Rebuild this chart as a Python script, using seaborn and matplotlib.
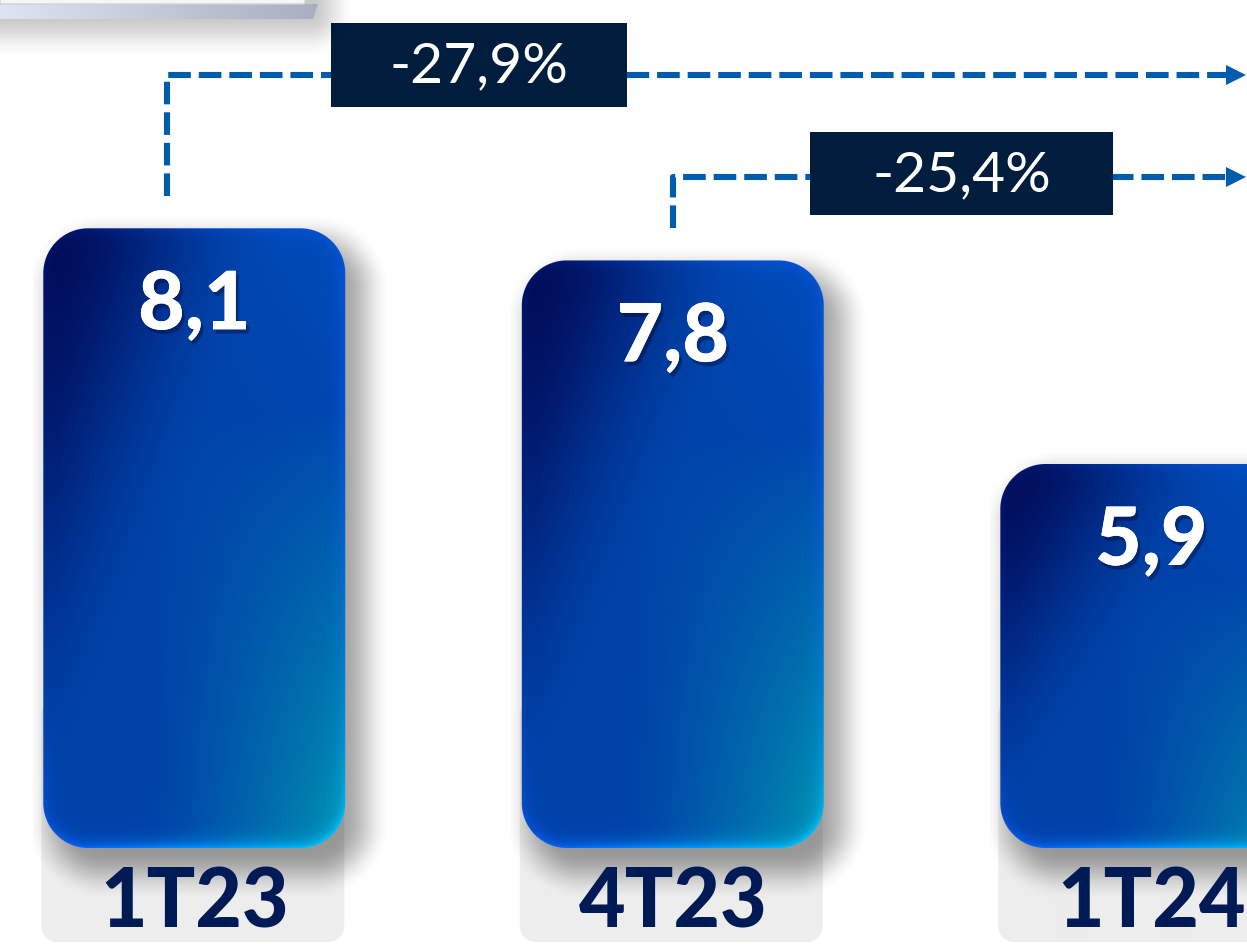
import numpy as np
import matplotlib
matplotlib.use('Agg')
import matplotlib.pyplot as plt
import seaborn as sns
from matplotlib.patches import Polygon
from matplotlib import patheffects as pe

# data
periods = ['1T23', '4T23', '1T24']
values = [8.1, 7.8, 5.9]
value_labels = ['8,1', '7,8', '5,9']
changes = ['-27,9%', '-25,4%']

W, H = 1247, 945
X0, X1 = -0.406, 2.200
Y0, Y1 = 1.42, 10.24

sns.set_style('white')
plt.rcParams['font.family'] = ['Lato', 'DejaVu Sans']

fig = plt.figure(figsize=(W / 100, H / 100), dpi=100)
ax = fig.add_axes([0, 0, 1, 1])
sns.barplot(x=periods, y=values, ax=ax, width=0.631, color='#0042a8')
ax.set_xlim(X0, X1)
ax.set_ylim(Y0, Y1)
ax.axis('off')


# pixel <-> data helpers (pixel y measured from the top)
def to_px(x):
    return (x - X0) / (X1 - X0) * W


def to_py(y):
    return (Y1 - y) / (Y1 - Y0) * H


def px_x(p):
    return X0 + p / W * (X1 - X0)


def px_y(p):
    return Y1 - p / H * (Y1 - Y0)


def hexrgb(h):
    h = h.lstrip('#')
    return np.array([int(h[i:i + 2], 16) for i in (0, 2, 4)]) / 255


def smooth(a, b, x):
    t = np.clip((x - a) / (b - a), 0, 1)
    return t * t * (3 - 2 * t)


def rrect_sdf(X, Y, x0, y0, x1, y1, r):
    cx, cy = (x0 + x1) / 2, (y0 + y1) / 2
    qx = np.abs(X - cx) - ((x1 - x0) / 2 - r)
    qy = np.abs(Y - cy) - ((y1 - y0) / 2 - r)
    out = np.hypot(np.maximum(qx, 0), np.maximum(qy, 0))
    inside = np.minimum(np.maximum(qx, qy), 0)
    return out + inside - r


def grid(x0, y0, x1, y1):
    xs = np.arange(int(x0), int(np.ceil(x1))) + 0.5
    ys = np.arange(int(y0), int(np.ceil(y1))) + 0.5
    X, Y = np.meshgrid(xs, ys)
    return X, Y, int(x0), int(y0), int(x0) + len(xs), int(y0) + len(ys)


def show_px(img, x0, y0, x1, y1, z, **kw):
    return ax.imshow(img, extent=(px_x(x0), px_x(x1), px_y(y1), px_y(y0)),
                     origin='upper', aspect='auto', zorder=z,
                     interpolation='bilinear', **kw)


navy = hexrgb('#000a56')
royal = hexrgb('#0042a8')
teal = hexrgb('#0094b0')
bright = hexrgb('#0058d0')
edge_blue = hexrgb('#0a5cff')
edge_cyan = hexrgb('#00d0ff')

base_py = 849
for i, patch in enumerate(list(ax.patches)):
    patch.set_visible(False)
    bx0 = to_px(patch.get_x())
    bx1 = to_px(patch.get_x() + patch.get_width())
    by0 = to_py(patch.get_height())
    by1 = base_py
    r = 45

    # grey label box
    X, Y, gx0, gy0, gx1, gy1 = grid(bx0 - 3, 700, bx1, H)
    d = rrect_sdf(X, Y, bx0 - 2, 700, bx1 - 1, 943, 16)
    img = np.zeros(X.shape + (4,))
    img[..., :3] = hexrgb('#ededed')
    img[..., 3] = np.clip(0.5 - d, 0, 1)
    show_px(img, gx0, gy0, gx1, gy1, 1)

    # soft drop shadow
    X, Y, sx0, sy0, sx1, sy1 = grid(bx0 - 10, by0 - 10, bx1 + 80, by1 + 80)
    d = rrect_sdf(X, Y, bx0 + 14, by0 + 16, bx1 + 14, by1 + 20, r)
    img = np.zeros(X.shape + (4,))
    img[..., 3] = 0.36 * (1 - smooth(-18, 32, d))
    show_px(img, sx0, sy0, sx1, sy1, 2)

    # gradient bar
    X, Y, ix0, iy0, ix1, iy1 = grid(bx0, by0, bx1, by1)
    u = (X - bx0) / (bx1 - bx0)
    v = (Y - by0) / (by1 - by0)
    a = smooth(0.0, 0.45, 0.55 * u + 0.45 * v)[..., None]
    c = navy * (1 - a) + royal * a
    tw = (np.clip((u - 0.35) / 0.65, 0, 1) ** 1.2 * np.clip((v - 0.3) / 0.7, 0, 1) ** 0.8)[..., None]
    c = c * (1 - tw) + teal * tw
    trw = (0.55 * u ** 2 * (1 - v) ** 3)[..., None]
    c = c * (1 - trw) + bright * trw
    d = rrect_sdf(X, Y, bx0, by0, bx1, by1, r)
    g = np.exp(np.minimum(d, 0) / 7)
    wgt = np.clip(0.1 + 0.35 * u + 0.75 * v ** 10, 0, 0.95)
    gw = (g * wgt)[..., None]
    gt = (u * v ** 3)[..., None]
    gcol = edge_blue * (1 - gt) + edge_cyan * gt
    c = c * (1 - gw) + gcol * gw
    img = np.zeros(X.shape + (4,))
    img[..., :3] = np.clip(c, 0, 1)
    img[..., 3] = np.clip(0.5 - d, 0, 1)
    show_px(img, ix0, iy0, ix1, iy1, 3)

    cx = patch.get_x() + patch.get_width() / 2
    ax.annotate(value_labels[i], (cx, patch.get_height()), xytext=(0, -40),
                textcoords='offset pixels', ha='center', va='top',
                fontsize=58, fontweight='black', color='white', zorder=5,
                path_effects=[pe.withSimplePatchShadow(offset=(2, -3), alpha=0.35,
                                                       shadow_rgbFace='#000020'),
                              pe.Normal()])
    ax.text(cx, px_y(904), periods[i], ha='center', va='center', fontsize=58,
            fontweight='black', color='#001a55', zorder=5)

# change arrows
line_col = '#005cac'
bars = list(ax.patches)
arrow_specs = [
    (bars[0].get_x() + bars[0].get_width() / 2 - (px_x(27) - px_x(0)), values[0], 76, (331, 24, 627, 108)),
    (bars[1].get_x() + bars[1].get_width() / 2, values[1], 178, (810, 133, 1113, 216)),
]
for k, (ax_x, val, hy, box) in enumerate(arrow_specs):
    start = px_y(to_py(val) - 32)
    ax.plot([ax_x, ax_x, px_x(1229)], [start, px_y(hy), px_y(hy)], color=line_col,
            lw=4.4, linestyle=(0, (3.7, 1.3)), solid_joinstyle='miter', zorder=4)
    tri = [(px_x(1226), px_y(hy - 10)), (px_x(1246), px_y(hy)), (px_x(1226), px_y(hy + 10))]
    ax.add_patch(Polygon(tri, closed=True, color=line_col, lw=0, zorder=4))
    bxa, bya, bxb, byb = box
    rect = [(px_x(bxa), px_y(bya)), (px_x(bxb), px_y(bya)), (px_x(bxb), px_y(byb)), (px_x(bxa), px_y(byb))]
    ax.add_patch(Polygon(rect, closed=True, color='#011d3e', lw=0, zorder=5))
    ax.text(px_x((bxa + bxb) / 2), px_y((bya + byb) / 2 + 1), changes[k], ha='center',
            va='center', fontsize=41, fontweight='normal', color='white', zorder=6)

# top-left title tab fragment
X, Y, tx0, ty0, tx1, ty1 = grid(0, 0, 420, 70)
d = rrect_sdf(X, Y, -40, -40, 316, 20, 6)
img = np.zeros(X.shape + (4,))
img[..., 3] = 0.22 * (1 - smooth(-6, 40, d))
show_px(img, tx0, ty0, tx1, ty1, 6)
X, Y, tx0, ty0, tx1, ty1 = grid(0, 0, 320, 21)
band = np.zeros(X.shape + (4,))
t = (X / 320)[..., None]
band[..., :3] = hexrgb('#dde5f2') * (1 - t) + hexrgb('#a6aec0') * t
band[..., 3] = 1
im = show_px(band, tx0, ty0, tx1, ty1, 7)
clip = Polygon([(px_x(0), px_y(5)), (px_x(318), px_y(5)), (px_x(313), px_y(20)), (px_x(0), px_y(20))],
               closed=True, transform=ax.transData, facecolor='none', lw=0)
ax.add_patch(clip)
im.set_clip_path(clip)
ax.add_patch(Polygon([(px_x(0), px_y(0)), (px_x(306), px_y(0)), (px_x(304), px_y(5)), (px_x(0), px_y(5))],
                     closed=True, facecolor='#f6f6f6', edgecolor='#d2d2d2', lw=1, zorder=8))

fig.savefig('out.png', dpi=100)
